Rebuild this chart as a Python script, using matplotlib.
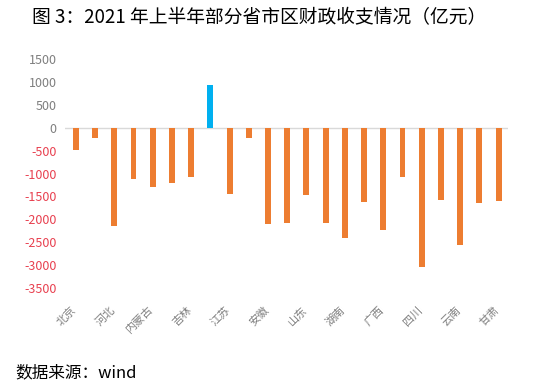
import numpy as np
import matplotlib.pyplot as plt

plt.rcParams['font.family'] = ['Noto Sans CJK SC', 'DejaVu Sans']

# Data: fiscal balance (revenue - expenditure), H1 2021, 100 million yuan
provinces = ['北京', '天津', '河北', '山西', '内蒙古', '辽宁', '吉林', '上海',
             '江苏', '浙江', '安徽', '福建', '山东', '河南', '湖南', '广东',
             '广西', '重庆', '四川', '贵州', '云南', '陕西', '甘肃']
balance = [-475, -220, -2140, -1125, -1300, -1215, -1065, 935,
           -1447, -220, -2100, -2075, -1470, -2075, -2400, -1630,
           -2245, -1080, -3050, -1580, -2565, -1650, -1610]
yticks = np.arange(-3500, 1501, 500)

orange = '#ED7D31'
blue = '#00B0F0'
colors = [blue if v > 0 else orange for v in balance]

fig = plt.figure(figsize=(5.5, 3.9), dpi=100)
ax = fig.add_axes([0.118, 0.262, 0.806, 0.586])

x = np.arange(len(provinces))
ax.bar(x, balance, width=0.31, color=colors, zorder=2)
ax.axhline(0, color='#D9D9D9', linewidth=1.0, zorder=1)

ax.set_xlim(-0.57, len(provinces) - 0.5)
ax.set_ylim(-3500, 1500)
for s in ax.spines.values():
    s.set_visible(False)

# y ticks: positive in gray, negative in red
ax.set_yticks(yticks)
ax.set_yticklabels([str(v) for v in yticks], fontsize=9)
for lab, v in zip(ax.get_yticklabels(), yticks):
    lab.set_color('#E8404F' if v < 0 else '#7F7F7F')
ax.tick_params(axis='y', length=0, pad=6)

# x ticks: only every other province labelled
ax.set_xticks(x[::2] - 0.25)
ax.set_xticklabels(provinces[::2], rotation=45, ha='right', va='top',
                   rotation_mode='anchor', fontsize=8, color='#7F7F7F')
ax.tick_params(axis='x', length=0, pad=12)

fig.text(0.058, 0.955, '图 3：2021 年上半年部分省市区财政收支情况（亿元）',
         fontsize=13.5, color='black', va='center', ha='left')
fig.text(0.027, 0.045, '数据来源：wind', fontsize=12, color='black',
         va='center', ha='left')

fig.savefig('out.png', dpi=100)
